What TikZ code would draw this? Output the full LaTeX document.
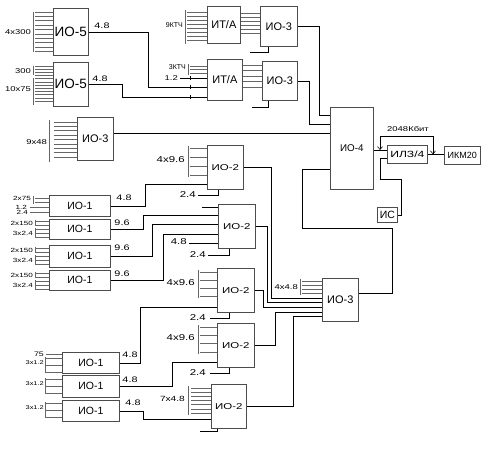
\documentclass[tikz,border=0pt]{standalone}
\usepackage{fontspec}
\setmainfont{Liberation Sans}
\newfontfamily\nf[FakeStretch=1.35]{Liberation Sans}
\usetikzlibrary{arrows.meta}

\tikzset{
  blk/.style={draw=black!70, line width=0.7pt, inner sep=0pt, anchor=north west},
  comb/.style={black!60, line width=0.7pt},
  wire/.style={black, line width=0.6pt},
  num/.style={inner sep=0pt, font=\nf\fontsize{8}{9}\selectfont},
  tag/.style={inner sep=0pt, anchor=east, font=\nf\fontsize{#1}{#1}\selectfont},
  tag/.default=6,
}

\begin{document}
\begin{tikzpicture}[x=1pt,y=-1pt]
\useasboundingbox (0,0) rectangle (486,449);

\node[blk,minimum width=35pt,minimum height=47pt,font=\fontsize{13.5}{14}\selectfont] (io5a) at (53,8) {ИО-5};
\node[blk,minimum width=35pt,minimum height=44pt,font=\fontsize{13.5}{14}\selectfont] (io5b) at (53,62) {ИО-5};
\node[blk,minimum width=33pt,minimum height=37pt,font=\fontsize{11}{12}\selectfont] (ita) at (207,6) {ИТ/А};
\node[blk,minimum width=37pt,minimum height=40pt,font=\fontsize{11}{12}\selectfont] (io3a) at (260,6) {ИО-3};
\node[blk,minimum width=35pt,minimum height=41pt,font=\fontsize{11}{12}\selectfont] (itb) at (207,59) {ИТ/А};
\node[blk,minimum width=35pt,minimum height=39pt,font=\fontsize{11}{12}\selectfont] (io3b) at (262,61) {ИО-3};
\node[blk,minimum width=36pt,minimum height=43pt,font=\fontsize{11}{12}\selectfont] (io3c) at (77,117) {ИО-3};
\node[blk,minimum width=43pt,minimum height=82pt,font=\fontsize{9.8}{10}\selectfont] (io4) at (330,107) {ИО-4};
\node[blk,minimum width=40pt,minimum height=18pt,font=\nf\fontsize{9}{10}\selectfont] (ilz) at (387,145) {ИЛЗ/4};
\node[blk,minimum width=36pt,minimum height=18pt,font=\fontsize{9}{10}\selectfont] (ikm) at (444,146) {ИКМ20};
\node[blk,minimum width=20pt,minimum height=15pt,font=\fontsize{10.5}{11}\selectfont] (ic) at (377,207) {ИС};

\node[blk,minimum width=36pt,minimum height=44pt,font=\nf\fontsize{8.5}{9}\selectfont] (io2a) at (207,145) {ИО-2};
\node[blk,minimum width=37pt,minimum height=44pt,font=\nf\fontsize{8.5}{9}\selectfont] (io2b) at (218,204) {ИО-2};
\node[blk,minimum width=37pt,minimum height=44pt,font=\nf\fontsize{8.5}{9}\selectfont] (io2c) at (217,268) {ИО-2};
\node[blk,minimum width=37pt,minimum height=44pt,font=\nf\fontsize{8.5}{9}\selectfont] (io2d) at (217,323) {ИО-2};
\node[blk,minimum width=35pt,minimum height=44pt,font=\nf\fontsize{8.5}{9}\selectfont] (io2e) at (211,384) {ИО-2};
\node[blk,minimum width=36pt,minimum height=43pt,font=\fontsize{11}{12}\selectfont] (io3d) at (322,278) {ИО-3};

\node[blk,minimum width=61pt,minimum height=21pt,font=\fontsize{10.5}{11}\selectfont] (io1a) at (49,195) {ИО-1};
\node[blk,minimum width=61pt,minimum height=20pt,font=\fontsize{10.5}{11}\selectfont] (io1b) at (49,219) {ИО-1};
\node[blk,minimum width=61pt,minimum height=22pt,font=\fontsize{10.5}{11}\selectfont] (io1c) at (49,245) {ИО-1};
\node[blk,minimum width=61pt,minimum height=20pt,font=\fontsize{10.5}{11}\selectfont] (io1d) at (49,270) {ИО-1};
\node[blk,minimum width=57pt,minimum height=21pt,font=\fontsize{10.5}{11}\selectfont] (io1e) at (62,352) {ИО-1};
\node[blk,minimum width=57pt,minimum height=22pt,font=\fontsize{10.5}{11}\selectfont] (io1f) at (62,375) {ИО-1};
\node[blk,minimum width=57pt,minimum height=21pt,font=\fontsize{10.5}{11}\selectfont] (io1g) at (62,400) {ИО-1};

% top inputs
\foreach \y in {12,16.4,...,52}
  \draw[comb] (35,\y) -- (io5a.west |- 0,\y);
\draw[comb] (33,12) -- (33,52);
\node[tag=7] at (31,32) {4x300};
\foreach \y in {66,69.2,...,104}
  \draw[comb] (35,\y) -- (io5b.west |- 0,\y);
\draw[comb] (33,66) -- (33,75);
\draw[comb] (33,78) -- (33,105);
\node[tag=7] at (31,71) {300};
\node[tag=7] at (31,89) {10x75};

\foreach \y in {12,16,...,40}
  \draw[comb] (187,\y) -- (ita.west |- 0,\y);
\draw[comb] (185,10) -- (185,44);
\node[tag, font=\fontsize{7}{8}\selectfont] at (183,25) {9КТЧ};
\foreach \y in {13,17,...,33}
  \draw[comb] (ita.east |- 0,\y) -- (io3a.west |- 0,\y);

\foreach \y in {66,69.5,73}
  \draw[comb] (190,\y) -- (itb.west |- 0,\y);
\draw[comb] (188,64) -- (188,75);
\node[tag, font=\fontsize{7}{8}\selectfont] at (186,67) {3КТЧ};
\draw[wire] (180,78) -- (itb.west |- 0,78);
\node[tag=7] at (178,78) {1.2};
\foreach \y in {78,87,97}
  \draw[wire] (190,\y-2) -- (190,\y+2);
\foreach \y in {65,70.6,...,93}
  \draw[comb] (itb.east |- 0,\y) -- (io3b.west |- 0,\y);

\draw[wire] (io5a.east) -| (148,87) -- (itb.west |- 0,87);
\node[num] at (102,26) {4.8};
\draw[wire] (io5b.east) -| (122,97) -- (itb.west |- 0,97);
\node[num] at (100,79) {4.8};

\draw[wire] (io3a.south -| 268,0) |- (250,52);
\draw[wire] (io3b.south -| 268,0) |- (252,107);
\draw[wire] (io3a.east) -| (319,115) -- (io4.west |- 0,115);
\draw[wire] (io3b.east) -| (309,124) -- (io4.west |- 0,124);

\foreach \y in {122,126.4,...,158}
  \draw[comb] (54,\y) -- (io3c.west |- 0,\y);
\draw[comb] (49,120) -- (49,162);
\node[tag=7] at (47,142) {9x48};
\draw[wire] (io3c.east |- 0,133) -- (io4.west |- 0,133);

% right part
\draw[wire] (io4.east |- 0,150) -- (ilz.west |- 0,150);
\draw[wire] (ilz.east) -- (ilz.east -| ikm.west);
\draw[wire,{Straight Barb[length=3pt,width=5pt]}-{Straight Barb[length=3pt,width=5pt]}]
  (380,150) -- (380,136) -- (433,136) -- (ilz.east -| 433,0);
\node[inner sep=0pt,font=\nf\fontsize{7}{8}\selectfont] at (408,129) {2048Кбит};
\draw[wire] (ilz.west |- 0,158) -- (380,158) -- (380,179) -- (401,179) |- (ic.east);
\draw[wire] (io3d.east |- 0,293) -- (392,293) -- (392,228) -- (302,228) -- (302,169) -- (io4.west |- 0,169);

% IO-1 inputs
\foreach \y in {198,202}
  \draw[comb] (35,\y) -- (io1a.west |- 0,\y);
\draw[comb] (33,196) -- (33,204);
\foreach \y in {207,212}
  \draw[comb] (30,\y) -- (io1a.west |- 0,\y);
\node[tag] at (31,198) {2x75};
\node[tag] at (27,207) {1.2};
\node[tag] at (28,212) {2.4};
\foreach \n/\a/\b in {io1b/219/229, io1c/246/256, io1d/271/281}
{
  \draw[comb] (35,\a+2) -- (\n.west |- 0,\a+2);
  \draw[comb] (35,\a+6) -- (\n.west |- 0,\a+6);
  \draw[comb] (35,\a+1) -- (35,\a+7);
  \foreach \k in {0,4,8}
    \draw[comb] (35,\b+\k) -- (\n.west |- 0,\b+\k);
  \draw[comb] (35,\b-1) -- (35,\b+9);
  \node[tag] at (33,\a+4) {2x150};
  \node[tag] at (33,\b+4) {3x2.4};
}
\draw[comb] (46,354) -- (io1e.west |- 0,354);
\node[tag=6.5] at (44,354) {75};
\foreach \n/\a in {io1e/358, io1f/379, io1g/403}
{
  \foreach \k in {0,7,14}
    \draw[comb] (45,\a+\k) -- (\n.west |- 0,\a+\k);
  \draw[comb] (45,\a-1) -- (45,\a+15);
  \node[tag=5.5] at (44,\a+5) {3x1.2};
}

% IO-1 outputs
\draw[wire] (io1a.east) -| (145,184) -- (io2a.west |- 0,184);
\node[num] at (124,198) {4.8};
\draw[wire] (io1b.east) -| (143,215) -- (io2b.west |- 0,215);
\node[num] at (122,223) {9.6};
\draw[wire] (io1c.east) -| (152,224) -- (io2b.west |- 0,224);
\node[num] at (122,248) {9.6};
\draw[wire] (io1d.east) -| (163,234) -- (io2b.west |- 0,234);
\node[num] at (122,274) {9.6};
\draw[wire] (io1e.east) -| (140,307) -- (io2c.west |- 0,307);
\node[num] at (130,355) {4.8};
\draw[wire] (io1f.east) -| (172,362) -- (io2d.west |- 0,362);
\node[num] at (130,380) {4.8};
\draw[wire] (io1g.east) -| (143,419) -- (io2e.west |- 0,419);
\node[num] at (133,403) {4.8};

% IO-2 inputs
\foreach \y in {148,157,166,175}
  \draw[comb] (190,\y) -- (io2a.west |- 0,\y);
\draw[comb] (188,146) -- (188,177);
\node[tag=8.5] at (185,160) {4x9.6};
\draw[wire] (io2a.south -| 218,0) |- (198,195);
\node[tag=8.5] at (196,195) {2.4};

\draw[wire] (202,207) -- (io2b.west |- 0,207);
\draw[wire] (189,243) -- (io2b.west |- 0,243);
\node[tag=8.5] at (187,242) {4.8};
\draw[wire] (io2b.south -| 229,0) |- (208,255);
\node[tag=8.5] at (206,255) {2.4};

\foreach \y in {272,280,288,296}
  \draw[comb] (200,\y) -- (io2c.west |- 0,\y);
\draw[comb] (198,270) -- (198,298);
\node[tag=8.5] at (195,283) {4x9.6};
\draw[wire] (io2c.south -| 229,0) |- (210,318);
\node[tag=8.5] at (206,318) {2.4};

\foreach \y in {327,335,343,352}
  \draw[comb] (200,\y) -- (io2d.west |- 0,\y);
\draw[comb] (198,325) -- (198,354);
\node[tag=8.5] at (195,338) {4x9.6};
\draw[wire] (io2d.south -| 229,0) |- (210,373);
\node[tag=8.5] at (206,373) {2.4};

\foreach \y in {388,392.2,...,414}
  \draw[comb] (191,\y) -- (io2e.west |- 0,\y);
\draw[comb] (188,386) -- (188,415);
\node[tag=7.5] at (185,399) {7x4.8};
\draw[wire] (io2e.south -| 217,0) |- (200,431);

% IO-2 outputs
\draw[wire] (io2a.east) -| (271,298) -- (io3d.west |- 0,298);
\draw[wire] (io2b.east) -| (267,302) -- (io3d.west |- 0,302);
\draw[wire] (io2c.east) -| (263,307) -- (io3d.west |- 0,307);
\draw[wire] (io2d.east) -| (275,312) -- (io3d.west |- 0,312);
\draw[wire] (io2e.east) -| (293,316) -- (io3d.west |- 0,316);

\foreach \y in {281,285,289,293}
  \draw[comb] (302,\y) -- (io3d.west |- 0,\y);
\draw[comb] (300,279) -- (300,295);
\node[tag=7] at (298,287) {4x4.8};
\end{tikzpicture}
\end{document}
